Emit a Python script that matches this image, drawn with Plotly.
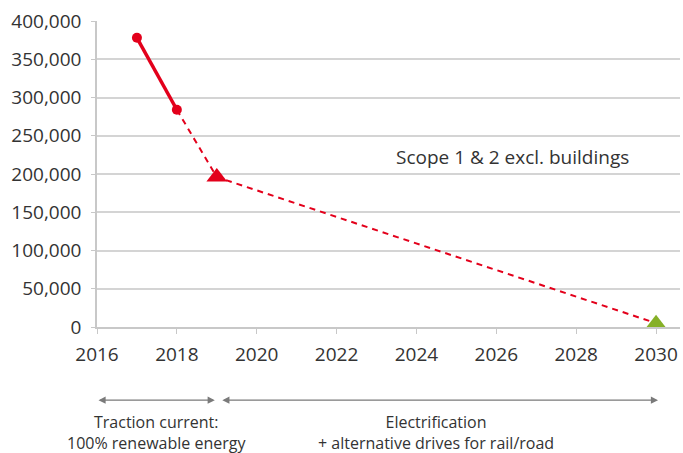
import plotly.graph_objects as go

# Data
actual_years = [2017, 2018]
actual_values = [378000, 284000]
path_years = [2018, 2019, 2030]
path_values = [284000, 196000, 5000]
milestone_2019 = [2019]
milestone_2019_val = [196000]
target_year = [2030]
target_val = [5000]
phase_labels = ["Traction current:<br>100% renewable energy",
                "Electrification<br>+ alternative drives for rail/road"]
series_label = "Scope 1 & 2 excl. buildings"

RED = "#e3001b"
GREEN = "#86b027"
GRAY = "#7a7a7a"
FONT = "Open Sans"
TXT = "#333333"

fig = go.Figure()
fig.add_trace(go.Scatter(x=path_years, y=path_values, mode="lines",
                         line=dict(color=RED, width=2, dash="6px,5px"), showlegend=False))
fig.add_trace(go.Scatter(x=actual_years, y=actual_values, mode="lines+markers",
                         line=dict(color=RED, width=3.5),
                         marker=dict(color=RED, size=10), showlegend=False))
fig.add_trace(go.Scatter(x=milestone_2019, y=milestone_2019_val, mode="markers",
                         marker=dict(color=RED, size=18, symbol="triangle-up"), showlegend=False))
fig.add_trace(go.Scatter(x=target_year, y=target_val, mode="markers",
                         marker=dict(color=GREEN, size=17, symbol="triangle-up"), showlegend=False))

fig.add_annotation(x=2026.4, y=222000, text=series_label, showarrow=False,
                   font=dict(family=FONT, size=19, color=TXT))

arrow_y = -0.239
for (x0, x1) in [(2016.0, 2018.95), (2019.1, 2030.05)]:
    fig.add_annotation(x=x1, y=arrow_y, ax=x0, ay=arrow_y, xref="x", yref="y domain",
                       axref="x", ayref="y domain", text="", showarrow=True,
                       arrowhead=2, arrowside="end+start", arrowsize=1.1,
                       arrowwidth=1.3, arrowcolor=GRAY)

fig.add_annotation(x=2017.5, y=-0.346, xref="x", yref="paper", text=phase_labels[0],
                   showarrow=False, align="center", yanchor="middle",
                   font=dict(family=FONT, size=16, color=TXT))
fig.add_annotation(x=2024.5, y=-0.346, xref="x", yref="paper", text=phase_labels[1],
                   showarrow=False, align="center", yanchor="middle",
                   font=dict(family=FONT, size=16, color=TXT))

fig.update_layout(
    width=683, height=453,
    margin=dict(l=97, r=3, t=21, b=126),
    paper_bgcolor="white", plot_bgcolor="white",
    font=dict(family=FONT, size=19, color=TXT),
    xaxis=dict(range=[2016, 2030.6], tickmode="array",
               tickvals=[2016, 2018, 2020, 2022, 2024, 2026, 2028, 2030],
               showgrid=False, showline=True, linecolor="#c8c8c8", linewidth=1.5,
               ticks="outside", ticklen=5, tickcolor="#c8c8c8", zeroline=False,
               ticklabelstandoff=4),
    yaxis=dict(range=[0, 400000], dtick=50000, tickformat=",",
               showgrid=True, gridcolor="#d4d4d4", gridwidth=1.5,
               showline=True, linecolor="#c8c8c8", linewidth=1.5,
               ticks="outside", ticklen=4, tickcolor="#c8c8c8", zeroline=False,
               ticklabelstandoff=6),
)

fig.write_html("out.html", config={"displayModeBar": False},
               post_script="document.body.style.margin='0';")
